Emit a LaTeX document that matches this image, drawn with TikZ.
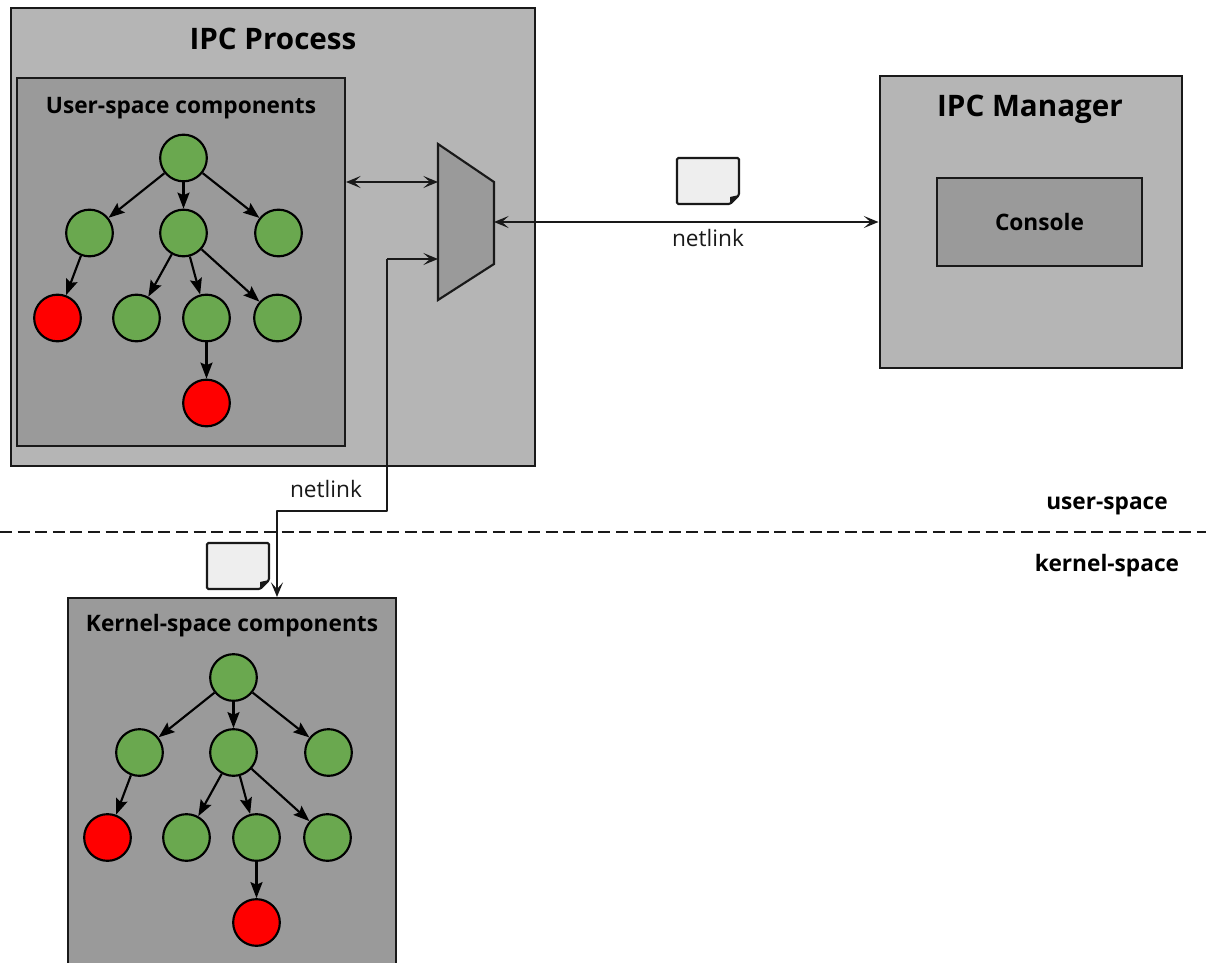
\documentclass[tikz,border=0pt]{standalone}
\usepackage{fontspec}
\setmainfont{Open Sans}
\usetikzlibrary{arrows.meta}

\definecolor{outerfill}{HTML}{B5B5B5}
\definecolor{innerfill}{HTML}{9A9A9A}
\definecolor{nodegreen}{HTML}{6AA84F}
\definecolor{docfill}{HTML}{EEEEEE}

\tikzset{
	outerbox/.style = {draw = black!90, line width = 1.5pt, fill = outerfill, inner sep = 0pt},
	innerbox/.style = {draw = black!90, line width = 1.5pt, fill = innerfill, inner sep = 0pt},
	good/.style = {circle, draw = black, line width = 1.6pt, fill = nodegreen, minimum size = 35pt, inner sep = 0pt},
	bad/.style = {good, fill = red},
	treearrow/.style = {-{Stealth[length = 12pt, width = 9pt, inset = 2pt]}, line width = 1.6pt},
	link/.style = {{Stealth[length = 11pt, width = 9pt, inset = 5pt]}-{Stealth[length = 11pt, width = 9pt, inset = 5pt]}, line width = 1.6pt, black!90},
	oneway/.style = {-{Stealth[length = 11pt, width = 9pt, inset = 5pt]}, line width = 1.6pt, black!90, line join = round},
	bigtitle/.style = {font = \fontsize{22.2}{26}\selectfont\bfseries, text = black},
	smalltitle/.style = {font = \fontsize{17}{20}\selectfont\bfseries, text = black},
	plainlabel/.style = {font = \fontsize{17}{20}\selectfont, text = black!90}
}

% #1 prefix for the node names, #2 shift
\newcommand{\comptree}[2]{
	\begin{scope}[shift = {#2}]
		\node[good] (#1root) at (183,158) {};
		\node[good] (#1left) at (89,233) {};
		\node[good] (#1mid) at (183,233) {};
		\node[good] (#1right) at (278,233) {};
		\node[bad] (#1lleaf) at (57,318) {};
		\node[good] (#1ma) at (136,318) {};
		\node[good] (#1mb) at (206,318) {};
		\node[good] (#1mc) at (277,318) {};
		\node[bad] (#1deep) at (206,403) {};
		\foreach \a/\b in {root/left,root/mid,root/right,left/lleaf,mid/ma,mid/mb,mid/mc,mb/deep}
			\draw[treearrow] (#1\a) -- (#1\b);
	\end{scope}
}

% #1 top left corner
\newcommand{\msgdoc}[1]{
	\begin{scope}[shift = {#1}]
		\draw[line width = 1.6pt, fill = docfill, draw = black!90, rounded corners = 1pt] (0,0) -- (62,0) -- (62,37) -- (53,46) -- (0,46) -- cycle;
		\fill[black!90] (62,37) -- (53,46) -- (53,39) -- cycle;
	\end{scope}
}

\begin{document}
\begin{tikzpicture}[x = 0.75pt, y = -0.75pt]
	\useasboundingbox (0,0) rectangle (1206,963);
	\clip (0,0) rectangle (1206,963);

	\node[outerbox, minimum width = 393pt, minimum height = 343.5pt] (ipcproc) at (273,237) {};
	\node[bigtitle] (ipcproctitle) at (273,39) {IPC Process};
	\node[innerbox, minimum width = 246pt, minimum height = 276pt] (user) at (181,262) {};
	\node[smalltitle] (usertitle) at (181,108) {User-space components};
	\comptree{u}{(0.5,0)}

	\node[outerbox, minimum width = 226.5pt, minimum height = 219pt] (manager) at (1030.5,222) {};
	\node[bigtitle] (managertitle) at (1030,109) {IPC Manager};
	\node[innerbox, smalltitle, minimum width = 154pt, minimum height = 66pt] (console) at (1039.5,222) {Console};

	\node[innerbox, minimum width = 246pt, minimum height = 282.75pt] (kernel) at (232,786.5) {};
	\node[smalltitle] (kerneltitle) at (232,626) {Kernel-space components};
	\comptree{k}{(50.5,519.5)}

	% the multiplexer
	\coordinate (muxa) at (438,144);
	\coordinate (muxb) at (494,182);
	\coordinate (muxc) at (494,264);
	\coordinate (muxd) at (438,300);
	\coordinate (muxin) at (438,182);
	\coordinate (muxlow) at (438,259);
	\coordinate (muxout) at (494,222);
	\draw[line width = 1.6pt, draw = black!90, fill = innerfill] (muxa) -- (muxb) -- (muxc) -- (muxd) -- cycle;

	\draw[link] (user.east |- muxin) -- (muxin);
	\draw[link] (muxout) -- (manager.west);

	\coordinate (bendup) at (387,259);
	\coordinate (benddown) at (387,511);
	\coordinate (bendleft) at (277,511);
	\coordinate (kernelin) at (bendleft |- kernel.north);
	\draw[oneway] (bendup) -- (muxlow);
	\draw[oneway] (bendup) -- (benddown) -- (bendleft) -- (kernelin);

	\msgdoc{(677,158)}
	\msgdoc{(207,543)}

	\node[plainlabel] (netlinktop) at (708,238) {netlink};
	\node[plainlabel] (netlinkbottom) at (326,489) {netlink};

	\coordinate (splitleft) at (0,532);
	\coordinate (splitright) at (1206,532);
	\draw[dash pattern = on 9pt off 4.2pt, line width = 1.7pt, black!90] (splitleft) -- (splitright);
	\node[smalltitle] (userspace) at (1107,506) {user-space};
	\node[smalltitle] (kernelspace) at (1107,566) {kernel-space};
\end{tikzpicture}
\end{document}
